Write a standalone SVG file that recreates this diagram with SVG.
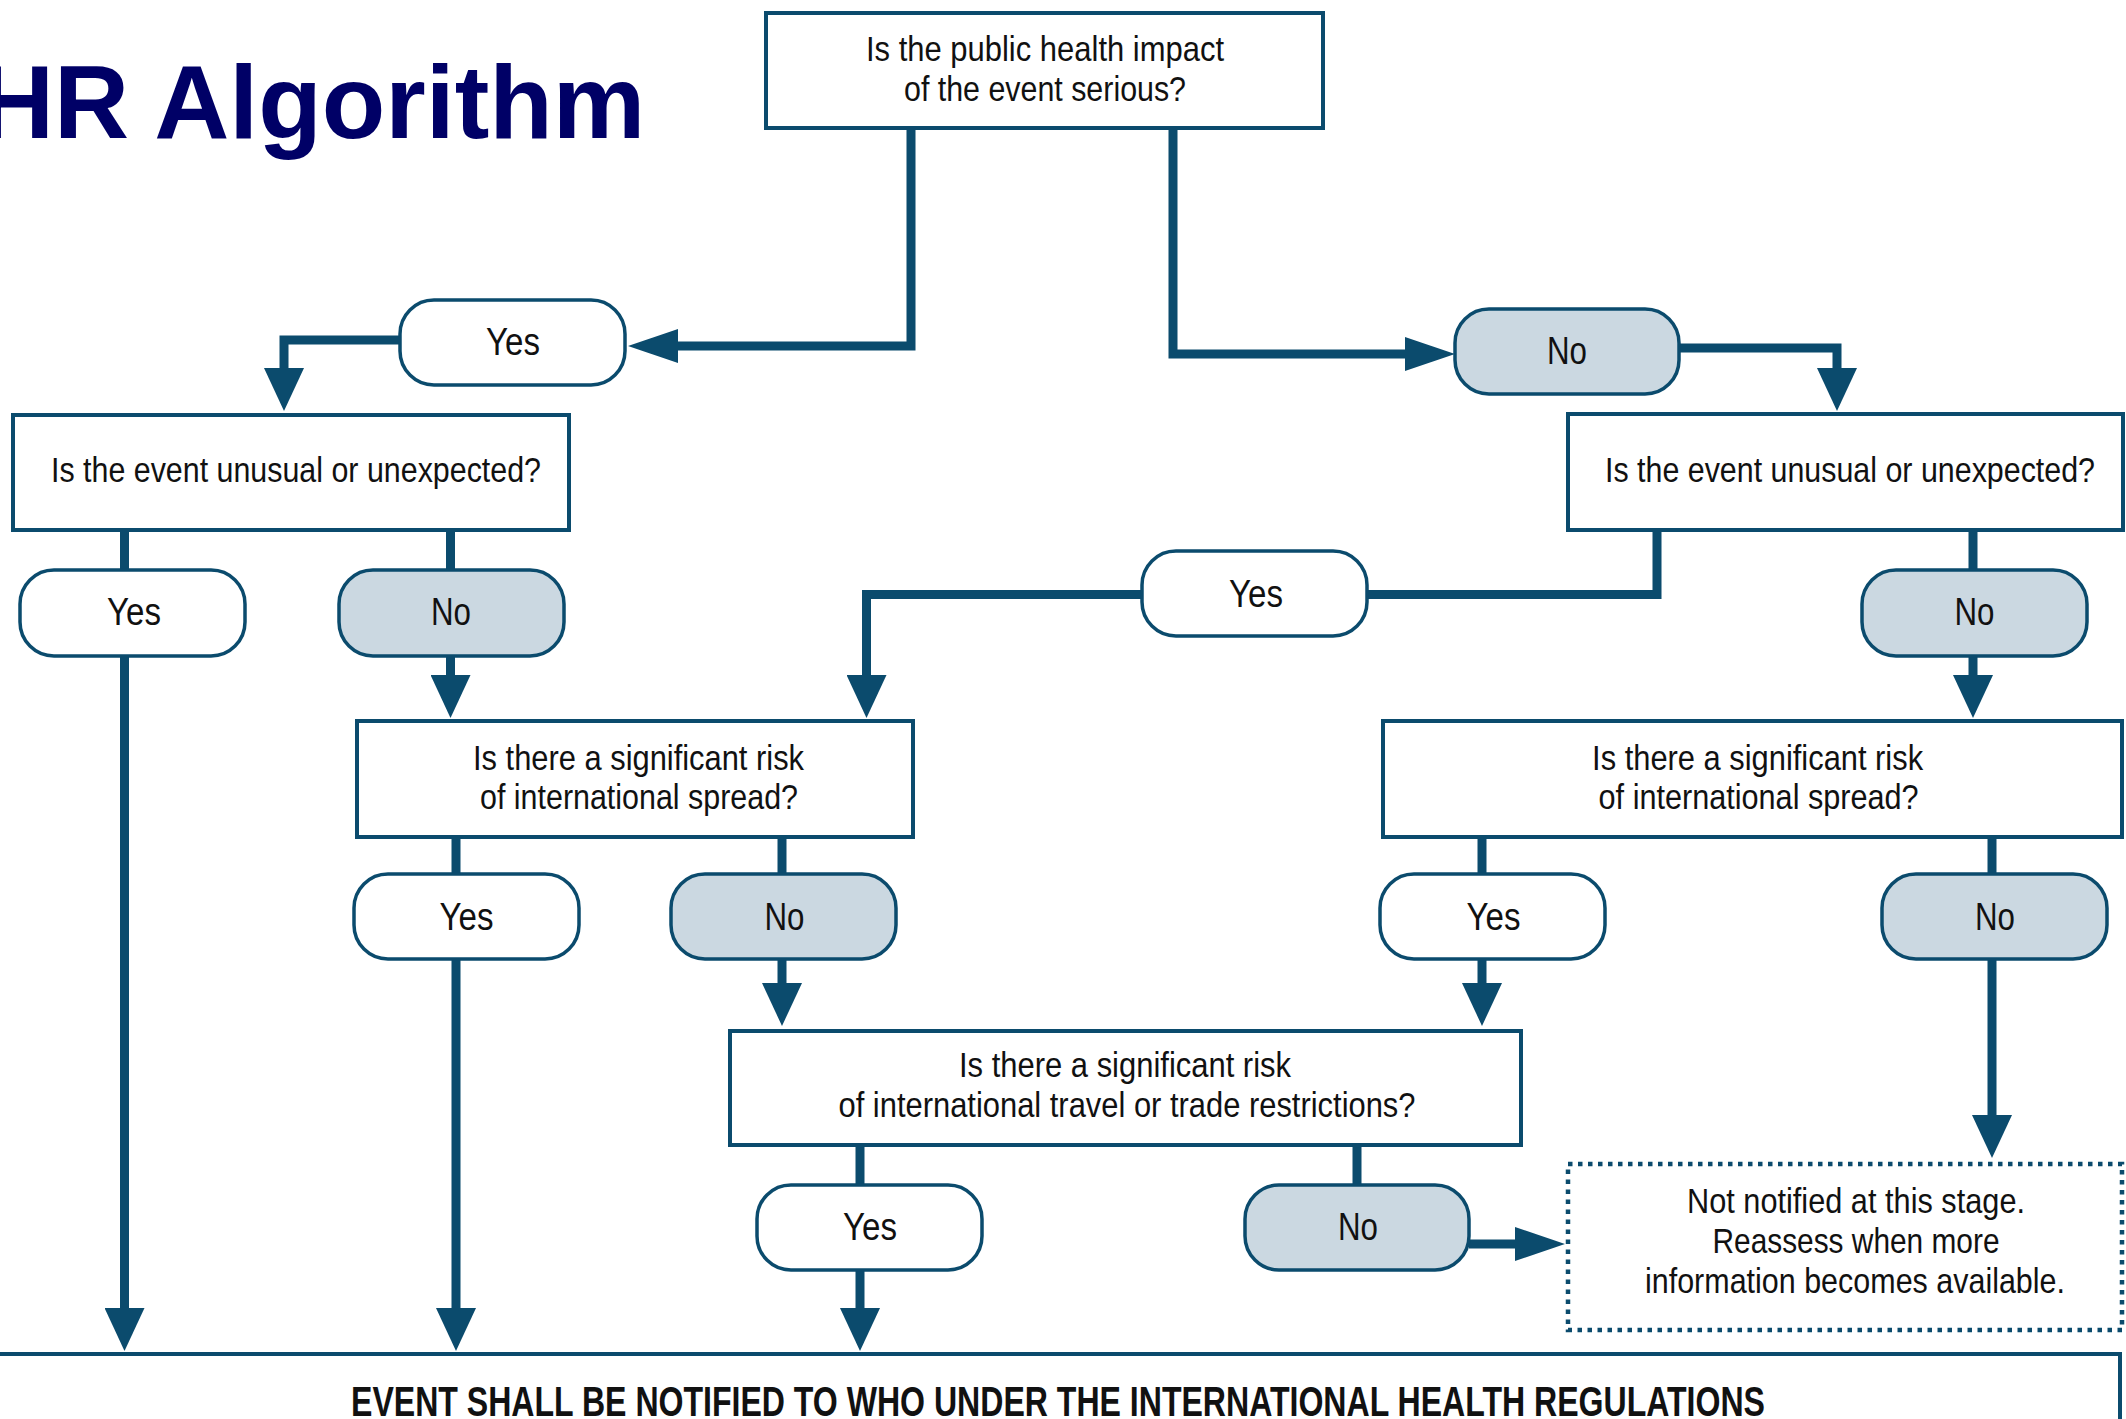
<svg xmlns="http://www.w3.org/2000/svg" width="2126" height="1419" viewBox="0 0 2126 1419">
<style>
.box{fill:#fff;stroke:#0b4b6d;stroke-width:4}
.pill{fill:#fff;stroke:#0b4b6d;stroke-width:3.5}
.pill.no{fill:#cbd8e1}
.dot{fill:#fff;stroke:#0b4b6d;stroke-width:4.5;stroke-dasharray:4.5 5.5}
.con{fill:none;stroke:#0b4b6d;stroke-width:9}
.t{font-family:"Liberation Sans",Arial,sans-serif;font-size:35px;fill:#111;text-anchor:middle}
.p{font-family:"Liberation Sans",Arial,sans-serif;font-size:38px;fill:#111;text-anchor:middle}
.title{font-family:"Liberation Sans",Arial,sans-serif;font-size:104px;font-weight:bold;fill:#000066}
.foot{font-family:"Liberation Sans",Arial,sans-serif;font-size:42px;font-weight:bold;fill:#111;text-anchor:middle}
</style>
<defs>
<marker id="arrowV" viewBox="0 0 43 40" refX="2" refY="20" markerWidth="43" markerHeight="40" markerUnits="userSpaceOnUse" orient="auto"><path d="M0,0 L43,20 L0,40 Z" fill="#0b4b6d"/></marker>
<marker id="arrowH" viewBox="0 0 50 34" refX="1" refY="17" markerWidth="50" markerHeight="34" markerUnits="userSpaceOnUse" orient="auto"><path d="M0,0 L50,17 L0,34 Z" fill="#0b4b6d"/></marker>
</defs>
<rect width="2126" height="1419" fill="#fff"/>
<text class="title" x="-21" y="138">HR Algorithm</text>
<g id="connectors">
<path class="con" d="M911,128 V346 H677" marker-end="url(#arrowH)"/>
<path class="con" d="M1173,128 V354 H1406" marker-end="url(#arrowH)"/>
<path class="con" d="M400,340 H284 V370" marker-end="url(#arrowV)"/>
<path class="con" d="M1679,348 H1837 V370" marker-end="url(#arrowV)"/>
<path class="con" d="M124.5,530 V570"/>
<path class="con" d="M450.5,530 V570"/>
<path class="con" d="M124.5,656 V1310" marker-end="url(#arrowV)"/>
<path class="con" d="M450.5,656 V677" marker-end="url(#arrowV)"/>
<path class="con" d="M1657,530 V594.5 H1367"/>
<path class="con" d="M1142,594.5 H866.5 V677" marker-end="url(#arrowV)"/>
<path class="con" d="M1973,530 V570"/>
<path class="con" d="M1973,656 V677" marker-end="url(#arrowV)"/>
<path class="con" d="M456,837 V874"/>
<path class="con" d="M782,837 V874"/>
<path class="con" d="M456,959 V1310" marker-end="url(#arrowV)"/>
<path class="con" d="M782,959 V985" marker-end="url(#arrowV)"/>
<path class="con" d="M1482,837 V874"/>
<path class="con" d="M1992,837 V874"/>
<path class="con" d="M1482,959 V985" marker-end="url(#arrowV)"/>
<path class="con" d="M1992,959 V1117" marker-end="url(#arrowV)"/>
<path class="con" d="M860,1145 V1185"/>
<path class="con" d="M1357,1145 V1185"/>
<path class="con" d="M860,1270 V1310" marker-end="url(#arrowV)"/>
<path class="con" d="M1469,1244 H1516" marker-end="url(#arrowH)"/>
</g>
<g id="q-serious">
<rect class="box" x="766" y="13" width="557" height="115"/>
<text class="t" x="1045" y="61" textLength="358" lengthAdjust="spacingAndGlyphs">Is the public health impact</text>
<text class="t" x="1045" y="100.5" textLength="282" lengthAdjust="spacingAndGlyphs">of the event serious?</text>
</g>
<g id="yes-serious"><rect class="pill" x="400" y="300" width="225" height="85" rx="34"/><text class="p" x="513" y="355" textLength="54" lengthAdjust="spacingAndGlyphs">Yes</text></g>
<g id="no-serious"><rect class="pill no" x="1455" y="309" width="224" height="85" rx="34"/><text class="p" x="1567" y="364" textLength="40" lengthAdjust="spacingAndGlyphs">No</text></g>
<g id="q-unusual-left">
<rect class="box" x="13" y="415" width="556" height="115"/>
<text class="t" x="296" y="482" textLength="490" lengthAdjust="spacingAndGlyphs">Is the event unusual or unexpected?</text>
</g>
<g id="q-unusual-right">
<rect class="box" x="1568" y="414" width="555" height="116"/>
<text class="t" x="1850" y="482" textLength="490" lengthAdjust="spacingAndGlyphs">Is the event unusual or unexpected?</text>
</g>
<g id="yes-unusual-left"><rect class="pill" x="20" y="570" width="225" height="86" rx="34"/><text class="p" x="134" y="625" textLength="54" lengthAdjust="spacingAndGlyphs">Yes</text></g>
<g id="no-unusual-left"><rect class="pill no" x="339" y="570" width="225" height="86" rx="34"/><text class="p" x="451" y="625" textLength="40" lengthAdjust="spacingAndGlyphs">No</text></g>
<g id="yes-unusual-right"><rect class="pill" x="1142" y="551" width="225" height="85" rx="34"/><text class="p" x="1256" y="607" textLength="54" lengthAdjust="spacingAndGlyphs">Yes</text></g>
<g id="no-unusual-right"><rect class="pill no" x="1862" y="570" width="225" height="86" rx="34"/><text class="p" x="1974.5" y="625" textLength="40" lengthAdjust="spacingAndGlyphs">No</text></g>
<g id="q-spread-left">
<rect class="box" x="357" y="721" width="556" height="116"/>
<text class="t" x="638.5" y="770" textLength="331" lengthAdjust="spacingAndGlyphs">Is there a significant risk</text>
<text class="t" x="639" y="809" textLength="318" lengthAdjust="spacingAndGlyphs">of international spread?</text>
</g>
<g id="q-spread-right">
<rect class="box" x="1383" y="721" width="739" height="116"/>
<text class="t" x="1757.6" y="770" textLength="331" lengthAdjust="spacingAndGlyphs">Is there a significant risk</text>
<text class="t" x="1758.6" y="809" textLength="320" lengthAdjust="spacingAndGlyphs">of international spread?</text>
</g>
<g id="yes-spread-left"><rect class="pill" x="354" y="874" width="225" height="85" rx="34"/><text class="p" x="466.5" y="929.5" textLength="54" lengthAdjust="spacingAndGlyphs">Yes</text></g>
<g id="no-spread-left"><rect class="pill no" x="671" y="874" width="225" height="85" rx="34"/><text class="p" x="784.5" y="929.5" textLength="40" lengthAdjust="spacingAndGlyphs">No</text></g>
<g id="yes-spread-right"><rect class="pill" x="1380" y="874" width="225" height="85" rx="34"/><text class="p" x="1493.5" y="929.5" textLength="54" lengthAdjust="spacingAndGlyphs">Yes</text></g>
<g id="no-spread-right"><rect class="pill no" x="1882" y="874" width="225" height="85" rx="34"/><text class="p" x="1995" y="929.5" textLength="40" lengthAdjust="spacingAndGlyphs">No</text></g>
<g id="q-travel">
<rect class="box" x="730" y="1031" width="791" height="114"/>
<text class="t" x="1125" y="1077" textLength="332" lengthAdjust="spacingAndGlyphs">Is there a significant risk</text>
<text class="t" x="1127" y="1116.5" textLength="577" lengthAdjust="spacingAndGlyphs">of international travel or trade restrictions?</text>
</g>
<g id="yes-travel"><rect class="pill" x="757" y="1185" width="225" height="85" rx="34"/><text class="p" x="870" y="1240" textLength="54" lengthAdjust="spacingAndGlyphs">Yes</text></g>
<g id="no-travel"><rect class="pill no" x="1245" y="1185" width="224" height="85" rx="34"/><text class="p" x="1358" y="1240" textLength="40" lengthAdjust="spacingAndGlyphs">No</text></g>
<g id="not-notified">
<rect class="dot" x="1568" y="1164" width="554" height="166"/>
<text class="t" x="1856" y="1212.5" textLength="338" lengthAdjust="spacingAndGlyphs">Not notified at this stage.</text>
<text class="t" x="1856" y="1252.5" textLength="287" lengthAdjust="spacingAndGlyphs">Reassess when more</text>
<text class="t" x="1855" y="1293" textLength="420" lengthAdjust="spacingAndGlyphs">information becomes available.</text>
</g>
<g id="notify">
<rect class="box" x="-10" y="1354" width="2130" height="120"/>
<text class="foot" x="1058" y="1416" textLength="1414" lengthAdjust="spacingAndGlyphs">EVENT SHALL BE NOTIFIED TO WHO UNDER THE INTERNATIONAL HEALTH REGULATIONS</text>
</g>
</svg>
